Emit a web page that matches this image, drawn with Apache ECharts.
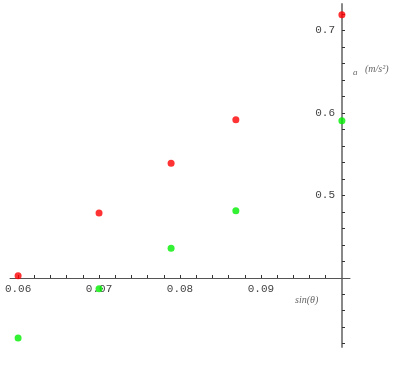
<!DOCTYPE html>
<html>
<head>
<meta charset="utf-8">
<script src="https://cdn.jsdelivr.net/npm/echarts@6/dist/echarts.min.js"></script>
<style>html,body{margin:0;padding:0;background:#fff}#c{width:400px;height:366px}</style>
</head>
<body>
<div id="c"></div>
<script>
const xValues = [0.06, 0.07, 0.0789, 0.0869, 0.1];
const redValues = [0.4025, 0.4785, 0.5388, 0.5915, 0.719];
const greenValues = [0.327, 0.3865, 0.4357, 0.4812, 0.5905];
const xTickLabels = [0.06, 0.07, 0.08, 0.09];
const yTickLabels = [0.5, 0.6, 0.7];
const xTicks = [0.06,0.062,0.064,0.066,0.068,0.07,0.072,0.074,0.076,0.078,0.08,0.082,0.084,0.086,0.088,0.09,0.092,0.094,0.096,0.098];
const yTicks = [0.32,0.34,0.36,0.38,0.42,0.44,0.46,0.48,0.5,0.52,0.54,0.56,0.58,0.6,0.62,0.64,0.66,0.68,0.7,0.72];
const xName = 'sin(θ)';
const yNameA = 'a';
const yNameUnit = '(m/s²)';

const XMIN = 0.059, XMAX = 0.101, YMIN = 0.316, YMAX = 0.732;

const chart = echarts.init(document.getElementById('c'));
const hidden = {show:false, splitLine:{show:false}};
chart.setOption({
  animation:false,
  backgroundColor:'#fff',
  grid:[
    {left:10, right:50, top:4, bottom:19},
    {left:10, right:50, top:4, bottom:88},
    {left:342, right:0, top:4, bottom:19}
  ],
  xAxis:[
    Object.assign({type:'value', gridIndex:0, min:XMIN, max:XMAX}, hidden),
    {type:'value', gridIndex:1, min:XMIN, max:XMAX, position:'bottom',
     splitLine:{show:false},
     axisLine:{show:true, lineStyle:{color:'#555', width:1}},
     axisTick:{show:true, inside:true, length:3, customValues:xTicks, lineStyle:{color:'#333'}},
     axisLabel:{show:true, customValues:xTickLabels, margin:6, color:'#444',
       fontFamily:'Liberation Mono', fontSize:11, formatter:v=>v.toFixed(2)}},
    Object.assign({type:'value', gridIndex:2, min:XMIN, max:XMAX}, hidden)
  ],
  yAxis:[
    Object.assign({type:'value', gridIndex:0, min:YMIN, max:YMAX}, hidden),
    Object.assign({type:'value', gridIndex:1, min:YMIN, max:YMAX}, hidden),
    {type:'value', gridIndex:2, min:YMIN, max:YMAX, position:'left',
     splitLine:{show:false},
     axisLine:{show:true, lineStyle:{color:'#888', width:2}},
     axisTick:{show:true, inside:true, length:3, customValues:yTicks, lineStyle:{color:'#333'}},
     axisLabel:{show:true, customValues:yTickLabels, margin:7, color:'#444',
       fontFamily:'Liberation Mono', fontSize:11, formatter:v=>v.toFixed(1)}}
  ],
  series:[
    {type:'scatter', xAxisIndex:0, yAxisIndex:0, symbolSize:7,
     itemStyle:{color:'#ff0000'}, data:xValues.map((x,i)=>[x, redValues[i]])},
    {type:'scatter', xAxisIndex:0, yAxisIndex:0, symbolSize:7,
     itemStyle:{color:'#00ee00'}, data:xValues.map((x,i)=>[x, greenValues[i]])}
  ],
  graphic:[
    {type:'text', left:295, top:295, style:{text:xName, fill:'#666', font:'italic 10px "Liberation Serif"'}},
    {type:'text', left:353, top:68, style:{text:yNameA, fill:'#666', font:'italic 9px "Liberation Serif"'}},
    {type:'text', left:365, top:64, style:{text:yNameUnit, fill:'#666', font:'italic 10px "Liberation Serif"'}}
  ]
});
</script>
</body>
</html>
